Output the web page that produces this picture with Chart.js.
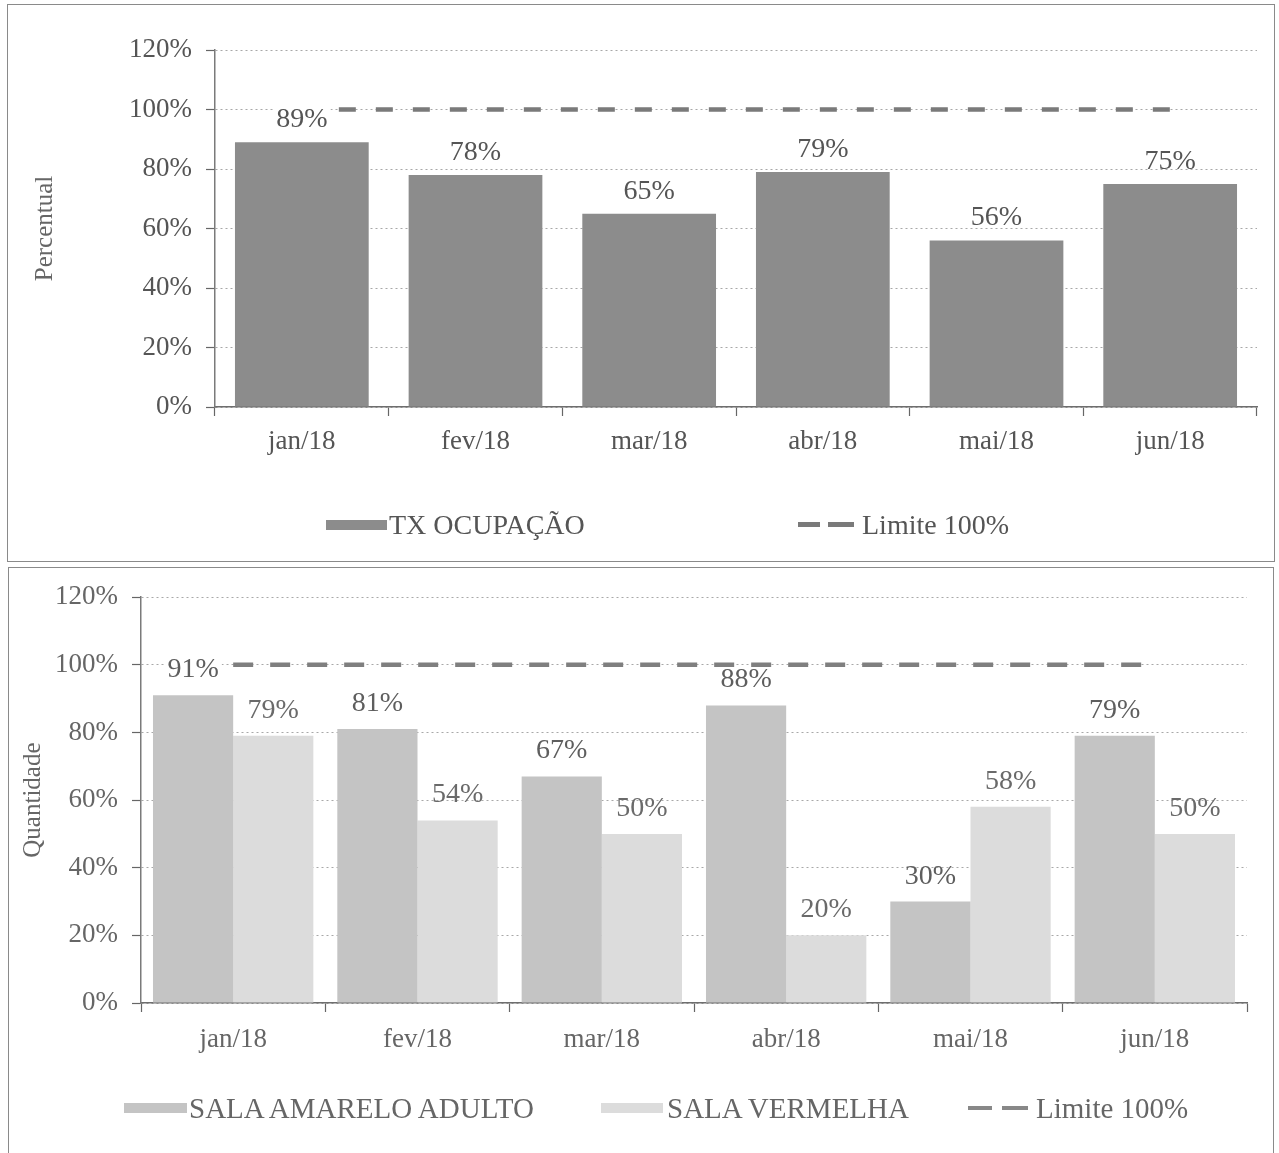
<!DOCTYPE html>
<html>
<head>
<meta charset="utf-8">
<script src="https://cdn.jsdelivr.net/npm/chart.js@4.4.1/dist/chart.umd.min.js"></script>
<style>
  body { margin: 0; background: #fff; width: 1279px; height: 1153px; overflow: hidden; position: relative; font-family: "Liberation Serif", serif; }
  canvas { position: absolute; }
  .moldura { position: absolute; border: 1.5px solid #8a8a8a; box-sizing: border-box; pointer-events: none; }
  .leg { position: absolute; color: #555; white-space: nowrap; line-height: 1; }
  .sw { position: absolute; }
</style>
</head>
<body>
<canvas id="graf1" width="1268" height="556" style="left:7px;top:4px"></canvas>
<div class="moldura" style="left:7px;top:4px;width:1268px;height:558px"></div>
<canvas id="graf2" width="1266" height="586" style="left:8px;top:567px"></canvas>
<div class="moldura" style="left:8px;top:567px;width:1266px;height:600px"></div>

<!-- legenda grafico 1 -->
<div class="sw" style="left:326px;top:520px;width:61px;height:10px;background:#8c8c8c"></div>
<div class="leg" style="left:389px;top:511px;font-size:28px">TX OCUPAÇÃO</div>
<div class="sw" style="left:798px;top:522px;width:22px;height:5px;background:#7a7a7a"></div>
<div class="sw" style="left:828px;top:522px;width:26px;height:5px;background:#7a7a7a"></div>
<div class="leg" style="left:862px;top:511px;font-size:28px">Limite 100%</div>

<!-- legenda grafico 2 -->
<div class="sw" style="left:124px;top:1103px;width:63px;height:10px;background:#c4c4c4"></div>
<div class="leg" style="left:189px;top:1094px;font-size:29px;color:#666">SALA AMARELO ADULTO</div>
<div class="sw" style="left:601px;top:1103px;width:62px;height:10px;background:#dcdcdc"></div>
<div class="leg" style="left:667px;top:1094px;font-size:29px;color:#666">SALA VERMELHA</div>
<div class="sw" style="left:968px;top:1106px;width:24px;height:4px;background:#888"></div>
<div class="sw" style="left:1002px;top:1106px;width:26px;height:4px;background:#888"></div>
<div class="leg" style="left:1036px;top:1094px;font-size:29px;color:#666">Limite 100%</div>

<script>
// dados
const meses = ['jan/18', 'fev/18', 'mar/18', 'abr/18', 'mai/18', 'jun/18'];
const txOcupacao = [89, 78, 65, 79, 56, 75];
const salaAmarelo = [91, 81, 67, 88, 30, 79];
const salaVermelha = [79, 54, 50, 20, 58, 50];
const limite = [100, 100, 100, 100, 100, 100];
const ticksY = [0, 20, 40, 60, 80, 100, 120];

const FONTE = '"Liberation Serif", "Times New Roman", serif';

// rotulos de dados acima das barras
const rotulos = {
  id: 'rotulos',
  afterDatasetsDraw(chart, args, opts) {
    const ctx = chart.ctx;
    const yLim = chart.scales.y.getPixelForValue(100);
    ctx.save();
    ctx.font = '28px ' + FONTE;
    ctx.textAlign = 'center';
    ctx.textBaseline = 'alphabetic';
    chart.data.datasets.forEach((ds, i) => {
      if (ds.type === 'line') return;
      chart.getDatasetMeta(i).data.forEach((bar, j) => {
        const txt = ds.data[j] + '%';
        const w = ctx.measureText(txt).width;
        const base = bar.y - opts.distancia;
        // esconde a linha do limite atras do rotulo
        if (yLim > base - 22 && yLim < base + 3) {
          ctx.fillStyle = '#fff';
          ctx.fillRect(bar.x - w / 2 - 3, base - 22, w + 6, 26);
        }
        ctx.fillStyle = ds.corRotulo;
        ctx.fillText(txt, bar.x, base);
      });
    });
    ctx.restore();
  }
};

function escalas(cfg) {
  return {
    x: {
      grid: { drawOnChartArea: false, drawTicks: true, tickLength: 9, tickColor: '#666', tickWidth: 1.2, offset: true },
      border: { color: '#6e6e6e', width: 1.5 },
      ticks: { color: cfg.cor, font: { family: FONTE, size: 27 }, padding: cfg.padX, maxRotation: 0, autoSkip: false },
      afterFit: s => { s.height = 60; }
    },
    y: {
      min: 0, max: 120,
      afterBuildTicks: s => { s.ticks = ticksY.map(v => ({ value: v })); },
      grid: { color: '#a8a8a8', lineWidth: 1, tickColor: '#666', tickLength: 9, tickWidth: 1.2, tickBorderDash: [] },
      border: { display: true, color: '#7a7a7a', width: 1.5, dash: [2, 3] },
      ticks: { color: cfg.cor, font: { family: FONTE, size: 27 }, padding: 14, callback: v => v + '%' },
      title: { display: true, text: cfg.titulo, color: '#666', font: { family: FONTE, size: 25 }, padding: { top: cfg.tituloPad, bottom: 0 } },
      afterFit: s => { s.width = cfg.largY; }
    }
  };
}

new Chart(document.getElementById('graf1'), {
  type: 'bar',
  data: {
    labels: meses,
    datasets: [
      { type: 'line', label: 'Limite 100%', data: limite, borderColor: '#7a7a7a', borderWidth: 4.5, borderDash: [17, 20], pointRadius: 0, fill: false, order: 0 },
      { label: 'TX OCUPAÇÃO', data: txOcupacao, backgroundColor: '#8c8c8c', corRotulo: '#555', categoryPercentage: 1, barPercentage: 0.77, order: 1 }
    ]
  },
  options: {
    responsive: false, animation: false, devicePixelRatio: 1,
    layout: { padding: { top: 46, right: 18, bottom: 93, left: 0 } },
    plugins: { legend: { display: false }, tooltip: { enabled: false }, rotulos: { distancia: 15 } },
    scales: escalas({ cor: '#555', titulo: 'Percentual', tituloPad: 23, largY: 208, padX: 10 })
  },
  plugins: [rotulos]
});

new Chart(document.getElementById('graf2'), {
  type: 'bar',
  data: {
    labels: meses,
    datasets: [
      { type: 'line', label: 'Limite 100%', data: limite, borderColor: '#7f7f7f', borderWidth: 4.5, borderDash: [20, 17], pointRadius: 0, fill: false, order: 0 },
      { label: 'SALA AMARELO ADULTO', data: salaAmarelo, backgroundColor: '#c4c4c4', corRotulo: '#5e5e5e', categoryPercentage: 0.87, barPercentage: 1, order: 1 },
      { label: 'SALA VERMELHA', data: salaVermelha, backgroundColor: '#dcdcdc', corRotulo: '#6a6a6a', categoryPercentage: 0.87, barPercentage: 1, order: 2 }
    ]
  },
  options: {
    responsive: false, animation: false, devicePixelRatio: 1,
    layout: { padding: { top: 29, right: 27, bottom: 90, left: 0 } },
    plugins: { legend: { display: false }, tooltip: { enabled: false }, rotulos: { distancia: 18 } },
    scales: escalas({ cor: '#666', titulo: 'Quantidade', tituloPad: 10, largY: 133, padX: 12 })
  },
  plugins: [rotulos]
});
</script>
</body>
</html>
